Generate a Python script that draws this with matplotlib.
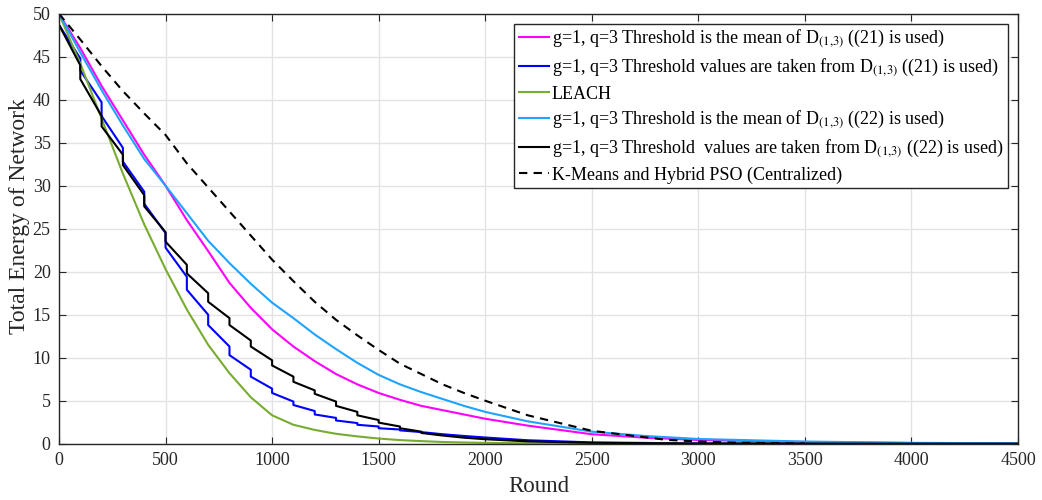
import numpy as np
import matplotlib
matplotlib.use("Agg")
import matplotlib.pyplot as plt

plt.rcParams['font.family'] = ['Liberation Serif', 'DejaVu Serif']
plt.rcParams['mathtext.fontset'] = 'stix'

# smooth curves (round, energy)
smooth_rounds = [0, 100, 200, 300, 400, 500, 600, 700, 800, 900, 1000, 1100, 1200, 1300,
                 1400, 1500, 1600, 1700, 1800, 1900, 2000, 2200, 2500, 2750, 3000, 3500, 4000, 4500]
magenta_vals = [50, 46.0, 41.6, 37.6, 33.6, 30.0, 26.0, 22.4, 18.7, 15.8, 13.3, 11.3, 9.6, 8.1,
                6.9, 5.9, 5.1, 4.4, 3.9, 3.4, 2.9, 2.1, 1.1, 0.7, 0.43, 0.2, 0.08, 0.03]
cyan_vals = [50, 45.5, 41.1, 37.0, 33.1, 30.0, 26.8, 23.6, 21.0, 18.6, 16.4, 14.6, 12.7, 11.0,
             9.4, 8.0, 6.9, 6.0, 5.2, 4.4, 3.7, 2.6, 1.4, 0.9, 0.55, 0.25, 0.1, 0.05]
leach_vals = [50, 44.2, 37.8, 31.4, 25.5, 20.3, 15.6, 11.5, 8.2, 5.4, 3.3, 2.2, 1.6, 1.15,
              0.85, 0.6, 0.42, 0.3, 0.2, 0.14, 0.1, 0.05, 0.02, 0.01, 0, 0, 0, 0]
kmeans_rounds = [0, 100, 200, 300, 400, 500, 600, 700, 800, 900, 1000, 1100, 1200, 1300,
                 1400, 1500, 1600, 1700, 1800, 1900, 2000, 2200, 2500, 2700, 2850, 3000, 3200, 3500]
kmeans_vals = [50, 47.0, 43.9, 41.0, 38.4, 35.9, 32.6, 29.8, 27.0, 24.2, 21.4, 18.9, 16.5, 14.4,
               12.6, 10.9, 9.3, 8.1, 6.9, 5.9, 5.0, 3.3, 1.5, 0.9, 0.45, 0.25, 0.1, 0.02]

# stepped curves: value just before / just after the drop at each 100 rounds
step_rounds_blue = [100, 200, 300, 400, 500, 600, 700, 800, 900, 1000, 1100, 1200, 1300, 1400, 1500, 1600]
blue_before = [44.8, 39.7, 34.4, 29.3, 24.5, 19.4, 15.0, 11.3, 8.6, 6.4, 4.9, 3.8, 3.0, 2.4, 2.0, 1.65]
blue_after = [43.4, 38.1, 32.8, 27.9, 22.8, 17.9, 13.8, 10.3, 7.8, 5.9, 4.5, 3.4, 2.7, 2.2, 1.8, 1.55]
blue_tail_rounds = [1700, 1800, 1900, 2000, 2200, 2500, 3000, 4500]
blue_tail_vals = [1.35, 1.1, 0.9, 0.72, 0.4, 0.15, 0.03, 0]

step_rounds_black = [100, 200, 300, 400, 500, 600, 700, 800, 900, 1000, 1100, 1200, 1300, 1400, 1500, 1600, 1700]
black_before = [44.0, 38.1, 33.6, 28.9, 24.6, 20.8, 17.5, 14.6, 12.0, 9.7, 7.8, 6.2, 4.9, 3.7, 2.75, 2.0, 1.4]
black_after = [42.4, 36.9, 32.4, 27.6, 23.5, 19.8, 16.5, 13.8, 11.3, 9.1, 7.2, 5.8, 4.4, 3.3, 2.45, 1.8, 1.25]
black_tail_rounds = [1800, 1900, 2000, 2200, 2500, 3000, 4500]
black_tail_vals = [0.95, 0.7, 0.52, 0.27, 0.1, 0.02, 0]
step_start = 48.7


def stepped(rounds, before, after, tail_r, tail_v):
    xs = [0] + list(np.repeat(rounds, 2)) + tail_r
    ys = [step_start] + [v for pair in zip(before, after) for v in pair] + tail_v
    return xs, ys


labels = [
    r"g=1, q=3 Threshold is the mean of D$_{(1{,}3)}$ ((21) is used)",
    r"g=1, q=3 Threshold values are taken from D$_{(1{,}3)}$ ((21) is used)",
    "LEACH",
    r"g=1, q=3 Threshold is the mean of D$_{(1{,}3)}$ ((22) is used)",
    r"g=1, q=3 Threshold  values are taken from D$_{(1{,}3)}$ ((22) is used)",
    "K-Means and Hybrid PSO (Centralized)",
]

fig = plt.figure(figsize=(10.42, 5.0), dpi=100)
ax = fig.add_axes([0.0566, 0.1126, 0.9204, 0.86])

bx, by = stepped(step_rounds_blue, blue_before, blue_after, blue_tail_rounds, blue_tail_vals)
kx, ky = stepped(step_rounds_black, black_before, black_after, black_tail_rounds, black_tail_vals)

ax.plot(smooth_rounds, magenta_vals, color='#ff00ff', lw=1.5, label=labels[0])
ax.plot(bx, by, color='#0000ff', lw=1.5, label=labels[1])
ax.plot(smooth_rounds, leach_vals, color='#77ac30', lw=1.5, label=labels[2])
ax.plot(smooth_rounds, cyan_vals, color='#1fa3ff', lw=1.5, label=labels[3])
ax.plot(kx, ky, color='black', lw=1.5, label=labels[4])
ax.plot(kmeans_rounds, kmeans_vals, color='black', lw=1.5, dashes=(4, 3), label=labels[5])

ax.set_xlim(0, 4500)
ax.set_ylim(0, 50)
ax.set_xticks(np.arange(0, 4501, 500))
ax.set_yticks(np.arange(0, 51, 5))
ax.grid(True, color='#e3e3e3', lw=1)
ax.set_axisbelow(True)
ax.tick_params(direction='in', top=True, right=True, length=5, labelsize=13,
               colors='#262626', pad=6)
for s in ax.spines.values():
    s.set_color('#262626')
    s.set_linewidth(1)

ax.set_xlabel("Round", fontsize=16.5, color='#262626', labelpad=5)
ax.set_ylabel("Total Energy of Network", fontsize=17, color='#262626')
ax.yaxis.set_label_coords(-0.03, 0.53)

leg = ax.legend(loc='upper right', fontsize=13, frameon=True, fancybox=False,
                framealpha=1, edgecolor='#262626', handlelength=1.7, handletextpad=0.15,
                labelspacing=0.36, borderpad=0.25, borderaxespad=0.55)
leg.get_frame().set_linewidth(1)

fig.savefig("out.png", dpi=100)
